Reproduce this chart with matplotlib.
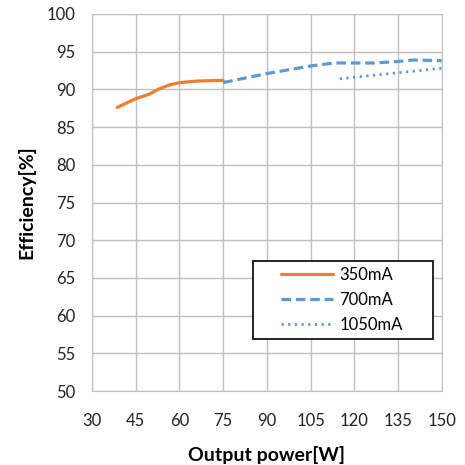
import numpy as np
import matplotlib.pyplot as plt
from matplotlib.patches import Rectangle

plt.rcParams['font.family'] = ['Lato', 'DejaVu Sans']

# 350mA curve
p350 = [38.6, 44.6, 49.8, 53.2, 56.7, 60.1, 65.9, 70.0, 75.0]
e350 = [87.6, 88.7, 89.4, 90.1, 90.6, 90.9, 91.1, 91.15, 91.2]

# 700mA curve
p700 = [75.0, 90.0, 105.0, 113.0, 120.0, 127.0, 135.0, 140.5, 150.0]
e700 = [90.9, 92.1, 93.1, 93.5, 93.5, 93.5, 93.7, 93.9, 93.8]

# 1050mA curve
p1050 = [115.0, 120.0, 135.0, 150.0]
e1050 = [91.4, 91.6, 92.2, 92.8]

x_ticks = [30, 45, 60, 75, 90, 105, 120, 135, 150]
y_ticks = [50, 55, 60, 65, 70, 75, 80, 85, 90, 95, 100]

fig = plt.figure(figsize=(4.65, 4.65), dpi=100)
ax = fig.add_axes([0.198, 0.159, 0.752, 0.811])

ax.plot(p350, e350, color='#ED7D31', lw=2.3, solid_capstyle='round', label='350mA')
ax.plot(p700, e700, color='#5B9BD5', lw=2.3, ls=(0, (3, 1.5)), label='700mA')
ax.plot(p1050, e1050, color='#5B9BD5', lw=2.0, ls=(0, (0.8, 1.6)), label='1050mA')

ax.set_xlim(30, 150)
ax.set_ylim(50, 100)
ax.set_xticks(x_ticks)
ax.set_yticks(y_ticks)
ax.grid(True, color='#bfbfbf', lw=1)
ax.set_axisbelow(True)
for s in ax.spines.values():
  s.set_color('#bfbfbf')
ax.tick_params(length=0, labelsize=12, colors='#222222')
ax.tick_params(axis='x', pad=16)
ax.tick_params(axis='y', pad=12)

ax.set_xlabel('Output power[W]', fontsize=14, fontweight='bold', labelpad=12)
ax.set_ylabel('Efficiency[%]', fontsize=14, fontweight='bold', labelpad=8)

# legend entries without frame, box drawn separately (Excel style padding)
leg = ax.legend(loc='upper left', bbox_to_anchor=(0.54, 0.330), fontsize=12,
                frameon=False, handlelength=3.1, handletextpad=0.4,
                borderpad=0, borderaxespad=0, labelspacing=0.55)
ax.add_patch(Rectangle((0.46, 0.138), 0.514, 0.207, transform=ax.transAxes,
                       facecolor='white', edgecolor='black', lw=1.2, zorder=4))
leg.set_zorder(5)

fig.savefig('out.png', dpi=100)
